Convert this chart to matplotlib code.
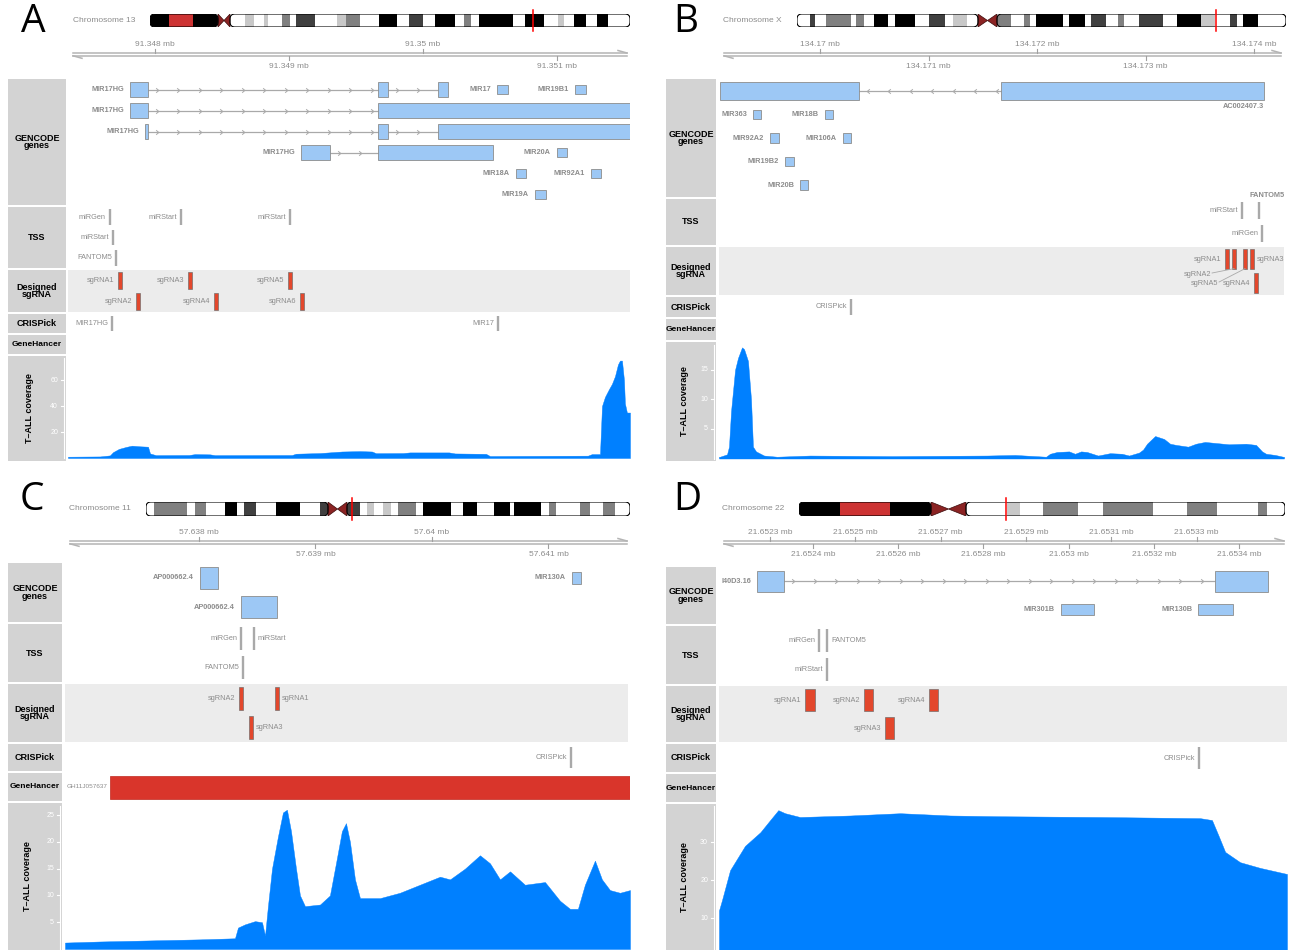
import numpy as np
import matplotlib.pyplot as plt
from matplotlib.patches import Rectangle, Polygon, FancyBboxPatch

# ------------------------------------------------------------------ data
# A: chr13, MIR17HG locus
a_xlim = (91347351, 91351545)
a_ticks = [91348000, 91349000, 91350000, 91351000]
a_gene_names = ['MIR17HG', 'MIR17', 'MIR19B1', 'MIR17HG', 'MIR17HG', 'MIR17HG',
                'MIR20A', 'MIR18A', 'MIR92A1', 'MIR19A']
a_gene_rows = [0, 0, 0, 1, 2, 3, 3, 4, 4, 5]
a_gene_kind = ['lnc', 'mir', 'mir', 'lnc', 'lnc', 'lnc', 'mir', 'mir', 'mir', 'mir']
a_gene_exons = [
    [(91347813, 91347948), (91349664, 91349739), (91350111, 91350186)],
    [(91350551, 91350633)],
    [(91351133, 91351215)],
    [(91347813, 91347948), (91349664, 91351700)],
    [(91347925, 91347948), (91349664, 91349739), (91350111, 91351700)],
    [(91349089, 91349305), (91349664, 91350521)],
    [(91350999, 91351074)],
    [(91350693, 91350768)],
    [(91351253, 91351327)],
    [(91350835, 91350917)],
]
a_tss_names = ['miRGen', 'miRStart', 'miRStart', 'miRStart', 'FANTOM5']
a_tss_pos = [91347664, 91348194, 91349007, 91347687, 91347709]
a_tss_rows = [0, 0, 0, 1, 2]
a_sg_names = ['sgRNA1', 'sgRNA3', 'sgRNA5', 'sgRNA2', 'sgRNA4', 'sgRNA6']
a_sg_start = [91347729, 91348251, 91348997, 91347863, 91348445, 91349087]
a_sg_end = [91347749, 91348271, 91349017, 91347883, 91348465, 91349107]
a_sg_rows = [0, 0, 0, 1, 1, 1]
a_crispick_names = ['MIR17HG', 'MIR17']
a_crispick_pos = [91347679, 91350560]
a_cov_pos = [91347351, 91347590, 91347664, 91347687, 91347731, 91347784, 91347828,
             91347888, 91347948, 91347963, 91348007, 91348254, 91348299, 91348410,
             91348448, 91349022, 91349052, 91349231, 91349396, 91349530, 91349619,
             91349649, 91349851, 91349903, 91350194, 91350239, 91350470, 91350500,
             91351231, 91351261, 91351321, 91351336, 91351358, 91351388, 91351410,
             91351433, 91351455, 91351470, 91351485, 91351500, 91351507, 91351522,
             91351545]
a_cov_val = [1, 1.2, 2, 4.5, 7, 8.5, 9.5, 9, 8.7, 3.5, 2.2, 2.3, 3, 2.8, 2.2,
             2.3, 3.3, 3.8, 5, 5.3, 5, 3.7, 3.8, 4.3, 4.3, 3.5, 3.2, 1.5, 1.8, 3,
             3, 40, 47, 53, 57, 63, 72, 75, 75, 60, 42, 35, 35]
a_cov_ticks = [20, 40, 60]
chr13_edges = [0, 19, 43, 68, 80, 95, 104, 114, 118, 132, 140, 146, 165, 187, 196,
               210, 229, 247, 259, 273, 285, 305, 314, 321, 329, 363, 375, 394, 408,
               414, 424, 436, 447, 458, 480]
chr13_stains = ['gpos100', 'stalk', 'gpos100', 'acen', 'gneg', 'gpos25', 'gneg',
                'gpos25', 'gneg', 'gpos50', 'gneg', 'gpos75', 'gneg', 'gpos25',
                'gpos50', 'gneg', 'gpos100', 'gneg', 'gpos75', 'gneg', 'gpos100',
                'gneg', 'gpos50', 'gneg', 'gpos100', 'gneg', 'gpos100', 'gneg',
                'gpos25', 'gneg', 'gpos100', 'gneg', 'gpos100', 'gneg']
chr13_mark = 383

# B: chrX, MIR106A-363 cluster
b_xlim = (134169069, 134174276)
b_ticks = [134170000, 134171000, 134172000, 134173000, 134174000]
b_gene_names = ['AC002407.3', 'MIR363', 'MIR18B', 'MIR92A2', 'MIR106A', 'MIR19B2', 'MIR20B']
b_gene_rows = [0, 1, 1, 2, 2, 3, 4]
b_gene_kind = ['lnc', 'mir', 'mir', 'mir', 'mir', 'mir', 'mir']
b_gene_exons = [
    [(134169078, 134170359), (134171668, 134174092)],
    [(134169382, 134169456)],
    [(134170046, 134170120)],
    [(134169539, 134169622)],
    [(134170212, 134170286)],
    [(134169677, 134169760)],
    [(134169816, 134169889)],
]
b_tss_names = ['miRStart', 'FANTOM5', 'miRGen']
b_tss_pos = [134173889, 134174046, 134174074]
b_tss_rows = [0, 0, 1]
b_sg_names = ['sgRNA1', 'sgRNA2', 'sgRNA5', 'sgRNA3', 'sgRNA4']
b_sg_start = [134173741, 134173806, 134173907, 134173972, 134174008]
b_sg_end = [134173761, 134173826, 134173927, 134173992, 134174028]
b_sg_rows = [0, 0, 0, 0, 1]
b_crispick_names = ['CRISPick']
b_crispick_pos = [134170286]
b_cov_pos = [134169069, 134169078, 134169143, 134169161, 134169180, 134169217, 134169244,
             134169281, 134169300, 134169336, 134169364, 134169382, 134169410, 134169484,
             134169604, 134169908, 134170664, 134171539, 134171797, 134172083, 134172120,
             134172184, 134172295, 134172350, 134172406, 134172461, 134172562, 134172673,
             134172783, 134172848, 134172940, 134172977, 134173014, 134173088, 134173171,
             134173226, 134173281, 134173392, 134173465, 134173548, 134173659, 134173770,
             134173926, 134174018, 134174074, 134174111, 134174194, 134174267, 134174276]
b_cov_val = [0.3, 0.3, 0.7, 2, 8, 15, 17, 18.8, 18.5, 16.5, 10, 2, 1.2, 0.5, 0.3, 0.5,
             0.4, 0.5, 0.6, 0.3, 0.8, 1.1, 1.2, 0.8, 1.2, 1.1, 0.5, 0.9, 0.8, 0.5, 1,
             1.5, 2.5, 3.8, 3.3, 2.5, 2.3, 2, 2.5, 2.8, 2.6, 2.4, 2.5, 2.3, 1.2, 0.8,
             0.6, 0.3, 0.3]
b_cov_ticks = [5, 10, 15]
chrX_edges = [0, 13, 18, 29, 54, 59, 67, 77, 91, 98, 118, 132, 148, 156, 170, 181, 200,
              214, 227, 233, 239, 266, 272, 288, 294, 309, 321, 327, 342, 366, 380, 404,
              418, 433, 440, 446, 461, 489]
chrX_stains = ['gneg', 'gpos75', 'gneg', 'gpos50', 'gneg', 'gpos50', 'gneg', 'gpos100',
               'gneg', 'gpos100', 'gneg', 'gpos75', 'gneg', 'gpos25', 'gneg', 'acen',
               'gpos50', 'gneg', 'gpos50', 'gneg', 'gpos100', 'gneg', 'gpos100', 'gneg',
               'gpos75', 'gneg', 'gpos50', 'gneg', 'gpos75', 'gneg', 'gpos100', 'gpos25',
               'gneg', 'gpos75', 'gneg', 'gpos100', 'gneg']
chrX_mark = 419

# C: chr11, MIR130A
c_xlim = (57636850, 57641700)
c_ticks = [57638000, 57639000, 57640000, 57641000]
c_gene_names = ['AP000662.4', 'MIR130A', 'AP000662.4']
c_gene_rows = [0, 0, 1]
c_gene_kind = ['lnc', 'mir', 'lnc']
c_gene_exons = [[(57638009, 57638163)], [(57641202, 57641279)], [(57638361, 57638670)]]
c_tss_names = ['miRGen', 'miRStart', 'FANTOM5']
c_tss_pos = [57638361, 57638472, 57638378]
c_tss_rows = [0, 0, 1]
c_sg_names = ['sgRNA2', 'sgRNA1', 'sgRNA3']
c_sg_start = [57638351, 57638660, 57638436]
c_sg_end = [57638371, 57638680, 57638456]
c_sg_rows = [0, 0, 1]
c_crispick_names = ['CRISPick']
c_crispick_pos = [57641193]
c_gh_names = ['GH11J057637']
c_gh_start = [57637236]
c_gh_end = [57641800]
c_cov_pos = [57636850, 57637150, 57637579, 57638009, 57638309, 57638335, 57638395,
             57638481, 57638541, 57638567, 57638592, 57638627, 57638678, 57638721,
             57638755, 57638790, 57638833, 57638867, 57638910, 57639039, 57639124,
             57639176, 57639227, 57639262, 57639296, 57639339, 57639382, 57639554,
             57639725, 57639897, 57640069, 57640155, 57640283, 57640412, 57640498,
             57640584, 57640670, 57640798, 57640970, 57641099, 57641185, 57641253,
             57641313, 57641399, 57641459, 57641528, 57641614, 57641700]
c_cov_val = [1.2, 1.4, 1.6, 1.8, 2, 4, 4.6, 5.2, 5, 2.5, 8, 15, 21, 25.5, 26, 22, 15,
             10, 8, 8.3, 10, 16, 22, 23.5, 20, 13, 9.5, 9.5, 10.5, 12, 13.5, 13, 15,
             17.5, 16, 13, 14.5, 12, 12.5, 9, 7.5, 7.5, 12, 16.5, 13, 11, 10.5, 11]
c_cov_ticks = [5, 10, 15, 20, 25]
chr11_edges = [0, 8, 41, 49, 60, 79, 91, 98, 110, 130, 154, 174, 182, 201, 214, 221, 228,
               237, 245, 252, 270, 277, 305, 317, 331, 348, 364, 368, 395, 403, 410, 434,
               444, 457, 469, 484]
chr11_stains = ['gneg', 'gpos50', 'gneg', 'gpos50', 'gneg', 'gpos100', 'gneg', 'gpos75',
                'gneg', 'gpos100', 'gneg', 'gpos75', 'acen', 'gpos75', 'gneg', 'gpos25',
                'gneg', 'gpos25', 'gneg', 'gpos50', 'gneg', 'gpos100', 'gneg', 'gpos100',
                'gneg', 'gpos100', 'gneg', 'gpos100', 'gneg', 'gpos50', 'gneg', 'gpos50',
                'gneg', 'gpos50', 'gneg']
chr11_mark = 206

# D: chr22, MIR301B / MIR130B
d_xlim = (21652180, 21653512)
d_ticks = [21652300, 21652400, 21652500, 21652600, 21652700, 21652800, 21652900,
           21653000, 21653100, 21653200, 21653300, 21653400]
d_gene_names = ['I40D3.16', 'MIR301B', 'MIR130B']
d_gene_rows = [0, 1, 1]
d_gene_kind = ['lnc', 'mir', 'mir']
d_gene_exons = [[(21652270, 21652333), (21653344, 21653468)],
                [(21652982, 21653060)], [(21653304, 21653386)]]
d_tss_names = ['miRGen', 'FANTOM5', 'miRStart']
d_tss_pos = [21652415, 21652434, 21652434]
d_tss_rows = [0, 0, 1]
d_sg_names = ['sgRNA1', 'sgRNA2', 'sgRNA4', 'sgRNA3']
d_sg_start = [21652382, 21652520, 21652673, 21652570]
d_sg_end = [21652406, 21652542, 21652694, 21652591]
d_sg_rows = [0, 0, 0, 1]
d_crispick_names = ['CRISPick']
d_crispick_pos = [21653306]
d_cov_pos = [21652180, 21652187, 21652206, 21652241, 21652277, 21652300, 21652319,
             21652335, 21652370, 21652488, 21652605, 21652722, 21652839, 21653074,
             21653308, 21653336, 21653351, 21653367, 21653402, 21653449, 21653512]
d_cov_val = [12, 14.7, 22.6, 29, 32.6, 35.8, 38.4, 37.6, 36.6, 37, 37.6, 37, 36.8,
             36.6, 36.3, 35.8, 31.8, 27.4, 24.7, 23.2, 21.6]
d_cov_ticks = [10, 20, 30]
chr22_edges = [0, 41, 91, 132, 167, 208, 221, 244, 279, 304, 354, 388, 418, 459, 468, 486]
chr22_stains = ['gpos100', 'stalk', 'gpos100', 'acen', 'gneg', 'gpos25', 'gneg', 'gpos50',
                'gneg', 'gpos50', 'gneg', 'gpos50', 'gneg', 'gpos50', 'gneg']
chr22_mark = 207

# ------------------------------------------------------------------ style
W, H = 1290, 950
plt.rcParams['font.family'] = ['Liberation Sans', 'DejaVu Sans']
LAB = '#8c8c8c'
TITLE_BG = '#d3d3d3'
LINE = '#a9a9a9'
GENE_FC, GENE_EC = '#9dc8f5', '#8c8c8c'
SG_FC, SG_EC = '#e3472c', '#6a6a6a'
GH_FC = '#d9352b'
COV = '#0080ff'
STAIN = {'gneg': 'white', 'gpos25': '#c8c8c8', 'gpos50': '#808080', 'gpos75': '#404040',
         'gpos100': 'black', 'stalk': '#cd3333', 'acen': '#8b2323'}
LFS = 5.3

fig = plt.figure(figsize=(W / 100, H / 100), dpi=100)


def frac(x0, y0, x1, y1):
    return [x0 / W, 1 - y1 / H, (x1 - x0) / W, (y1 - y0) / H]


def track_axes(x0, y0, x1, y1, xlim):
    ax = fig.add_axes(frac(x0, y0, x1, y1))
    ax.set_xlim(*xlim)
    ax.set_ylim(y1 - y0, 0)
    ax.axis('off')
    return ax


def title_box(x0, y0, x1, y1, text, size=6.5):
    ax = fig.add_axes(frac(x0, y0, x1, y1))
    ax.set_facecolor(TITLE_BG)
    ax.set_xticks([]); ax.set_yticks([])
    for s in ax.spines.values():
        s.set_visible(False)
    if text:
        ax.text(0.5, 0.5, text, ha='center', va='center', fontsize=size,
                fontweight='bold', linespacing=0.85, transform=ax.transAxes)
    return ax


def ideogram(box, label, edges, stains, mark):
    x0, y0, x1, y1 = box
    hp = y1 - y0
    ax = fig.add_axes(frac(x0, y0, x1, y1))
    ax.set_xlim(edges[0], edges[-1]); ax.set_ylim(0, hp); ax.axis('off')
    ci = stains.index('acen')
    ca, cb = edges[ci], edges[ci + 1]
    arms = []
    for a, b in [(edges[0], ca), (cb, edges[-1])]:
        arm = FancyBboxPatch((a, 0), b - a, hp, boxstyle='round,pad=0,rounding_size=5',
                             fc='none', ec='black', lw=0.8, zorder=3)
        ax.add_patch(arm)
        arms.append(arm)
    for a, b, s in zip(edges[:-1], edges[1:], stains):
        if s == 'acen':
            m = (a + b) / 2
            for base in (a, b):
                ax.add_patch(Polygon([(base, 0), (base, hp), (m, hp / 2)], closed=True,
                                     fc=STAIN['acen'], ec='#3a0a0a', lw=0.5, zorder=2))
            continue
        r = Rectangle((a, 0), b - a, hp, fc=STAIN[s], lw=0, zorder=1)
        ax.add_patch(r)
        r.set_clip_path(arms[0] if b <= ca else arms[1])
    ax.plot([mark, mark], [-4, hp + 4], color='red', lw=1.1, clip_on=False, zorder=5)
    fig.text((x0 - 15) / W, 1 - (y0 + y1) / 2 / H, label, ha='right', va='center',
             fontsize=6, color=LAB)


def genome_axis(data_x, yl, xlim, ticks):
    ax = track_axes(data_x[0], yl - 20, data_x[1], yl + 20, xlim)
    bpp = (xlim[1] - xlim[0]) / (data_x[1] - data_x[0])
    xa, xb = xlim[0] + 5 * bpp, xlim[1] - 3 * bpp
    ax.plot([xa, xb], [19, 19], color='#b4b4b4', lw=1.1, clip_on=False)
    ax.plot([xa, xb], [21.8, 21.8], color='#b4b4b4', lw=1.1, clip_on=False)
    ax.plot([xb - 9 * bpp, xb], [16.5, 19], color='#b4b4b4', lw=1.1, clip_on=False)
    ax.plot([xa, xa + 9 * bpp], [21.8, 24.3], color='#b4b4b4', lw=1.1, clip_on=False)
    for i, t in enumerate(ticks):
        lab = '%g mb' % (t / 1e6)
        if i % 2 == 0:
            ax.plot([t, t], [15, 19], color='#a0a0a0', lw=0.8)
            ax.text(t, 10, lab, ha='center', va='center', fontsize=6, color=LAB)
        else:
            ax.plot([t, t], [21.8, 26], color='#a0a0a0', lw=0.8)
            ax.text(t, 33, lab, ha='center', va='center', fontsize=6, color=LAB)


def chevron(strand):
    if strand == '+':
        return [(-0.6, 1), (0.6, 0), (-0.6, -1)]
    return [(0.6, 1), (-0.6, 0), (0.6, -1)]


def draw_genes(ax, h, nrows, bpp, names, rows, exons, kinds, strand, sides):
    rh = h / nrows
    for name, r, ex, kind, side in zip(names, rows, exons, kinds, sides):
        yc = (r + 0.5) * rh
        bh = rh * (0.74 if kind == 'lnc' else 0.4)
        if len(ex) > 1:
            ax.plot([ex[0][1], ex[-1][0]], [yc, yc], color=LINE, lw=0.9, zorder=1)
            for (s0, e0), (s1, e1) in zip(ex[:-1], ex[1:]):
                xs = np.arange(e0 + 9 * bpp, s1 - 2 * bpp, 21.5 * bpp)
                ax.plot(xs, np.full(len(xs), yc), ls='none', marker=chevron(strand),
                        ms=3.2, mfc='none', mec=LINE, mew=0.7, zorder=1)
        for s, e in ex:
            ax.add_patch(Rectangle((s, yc - bh / 2), e - s, bh, fc=GENE_FC, ec=GENE_EC,
                                   lw=0.6, zorder=2))
        if side == 'left':
            ax.text(ex[0][0] - 6 * bpp, yc, name, ha='right', va='center', fontsize=LFS,
                    fontweight='bold', color=LAB)
        else:
            ax.text(ex[-1][1], yc + bh / 2 + 7, name, ha='right', va='center',
                    fontsize=LFS, fontweight='bold', color=LAB)


def draw_marks(ax, h, nrows, bpp, names, pos, rows, sides):
    rh = h / nrows
    for name, p, r, side in zip(names, pos, rows, sides):
        yc = (r + 0.5) * rh
        bh = 0.78 * rh
        ax.plot([p, p], [yc - bh / 2, yc + bh / 2], color=LINE, lw=1.7,
                solid_capstyle='butt')
        if side == 'left':
            ax.text(p - 4 * bpp, yc, name, ha='right', va='center', fontsize=LFS, color=LAB)
        elif side == 'right':
            ax.text(p + 4 * bpp, yc, name, ha='left', va='center', fontsize=LFS, color=LAB)
        else:
            ax.text(p + 8 * bpp, yc - bh / 2 - 6, name, ha='center', va='center',
                    fontsize=LFS, color=LAB, fontweight='bold', clip_on=False)


def draw_sg(ax, h, nrows, bpp, names, starts, ends, rows, sides, leaders=None):
    rh = h / nrows
    for name, s, e, r, side in zip(names, starts, ends, rows, sides):
        yc = (r + 0.5) * rh
        bh = 0.8 * rh
        w = max(e - s, 3.6 * bpp)
        c = (s + e) / 2
        ax.add_patch(Rectangle((c - w / 2, yc - bh / 2), w, bh, fc=SG_FC, ec=SG_EC,
                               lw=0.45, zorder=2))
        if side == 'left':
            ax.text(c - w / 2 - 4 * bpp, yc, name, ha='right', va='center', fontsize=LFS,
                    color=LAB)
        elif side == 'right':
            ax.text(c + w / 2 + 3 * bpp, yc, name, ha='left', va='center', fontsize=LFS,
                    color=LAB)
        else:
            dx, dy = leaders[name]
            lx, ly = c - dx * bpp, yc + dy
            ax.plot([c, lx + 1 * bpp], [yc + bh / 2, ly - 1], color=LINE, lw=0.6)
            ax.text(lx, ly, name, ha='right', va='center', fontsize=LFS, color=LAB)


def coverage(title_x, data_x, track, axis_y, pos, val, ymax, ticks):
    title_box(title_x[0], track[0], title_x[1], track[1], None)
    tw = title_x[1] - title_x[0]
    fig.text((title_x[0] + 0.37 * tw) / W, 1 - (track[0] + track[1]) / 2 / H,
             'T\u2013ALL coverage', rotation=90, ha='center', va='center',
             fontsize=6.5, fontweight='bold')
    yax = fig.add_axes(frac(title_x[0], axis_y[0], title_x[1], axis_y[1]))
    yax.set_xlim(title_x[0], title_x[1]); yax.set_ylim(0, ymax); yax.axis('off')
    xl = title_x[1] - 2
    yax.plot([xl, xl], [0, ymax], color='white', lw=0.8, clip_on=False)
    for t in ticks:
        yax.plot([xl - 3, xl], [t, t], color='white', lw=0.8)
        yax.text(xl - 6, t, str(t), ha='right', va='center', fontsize=5, color='white')
    cax = fig.add_axes(frac(data_x[0], axis_y[0], data_x[1], axis_y[1]))
    cax.set_xlim(pos[0], pos[-1]); cax.set_ylim(0, ymax); cax.axis('off')
    cax.fill_between(pos, val, 0, color=COV, lw=0.3, ec=COV)


def panel(cfg):
    fig.text(cfg['letter_xy'][0] / W, 1 - cfg['letter_xy'][1] / H, cfg['letter'],
             fontsize=28, ha='center', va='center', family=['Open Sans', 'DejaVu Sans'])
    ideogram(cfg['ideo'], cfg['chrom'], cfg['edges'], cfg['stains'], cfg['mark'])
    dx = cfg['data_x']
    xlim = cfg['xlim']
    bpp = (xlim[1] - xlim[0]) / (dx[1] - dx[0])
    genome_axis(dx, cfg['axis_y'], xlim, cfg['ticks'])
    tx = cfg['title_x']
    tr = cfg['tracks']
    titles = {'genes': 'GENCODE\ngenes', 'tss': 'TSS', 'sg': 'Designed\nsgRNA',
              'crispick': 'CRISPick', 'gh': 'GeneHancer'}
    for key, txt in titles.items():
        title_box(tx[0], tr[key][0], tx[1], tr[key][1], txt,
                  size=6.0 if key == 'gh' else 6.5)
    t = tr['genes']
    ax = track_axes(dx[0], t[0], dx[1], t[1], xlim)
    draw_genes(ax, t[1] - t[0], cfg['gene_nrows'], bpp, *cfg['genes'])
    t = tr['tss']
    ax = track_axes(dx[0], t[0], dx[1], t[1], xlim)
    draw_marks(ax, t[1] - t[0], cfg['tss_nrows'], bpp, *cfg['tss'])
    t = tr['sg']
    ax = track_axes(cfg['sg_x'][0], t[0], cfg['sg_x'][1], t[1],
                    (xlim[0] + (cfg['sg_x'][0] - dx[0]) * bpp,
                     xlim[0] + (cfg['sg_x'][1] - dx[0]) * bpp))
    ax.add_patch(Rectangle((0, 0), 1, 1, transform=ax.transAxes, fc='#ececec', lw=0,
                           zorder=0))
    draw_sg(ax, t[1] - t[0], 2, bpp, *cfg['sg'], leaders=cfg.get('leaders'))
    t = tr['crispick']
    ax = track_axes(dx[0], t[0], dx[1], t[1], xlim)
    draw_marks(ax, t[1] - t[0], 1, bpp, *cfg['crispick'])
    t = tr['gh']
    ax = track_axes(dx[0], t[0], dx[1], t[1], xlim)
    if cfg.get('gh'):
        names, starts, ends = cfg['gh']
        h = t[1] - t[0]
        for n, s, e in zip(names, starts, ends):
            ax.add_patch(Rectangle((s, h * 0.1), e - s, h * 0.82, fc=GH_FC, ec='#c02a20',
                                   lw=0.5))
            ax.text(s - 2 * bpp, h / 2, n, ha='right', va='center', fontsize=4.6,
                    color=LAB)
    pos, val, ymax, ticks = cfg['cov']
    coverage(tx, dx, tr['cov'], cfg['cov_axis'], pos, val, ymax, ticks)


panel(dict(
    letter='A', letter_xy=(33, 22), chrom='Chromosome 13', ideo=(150, 14, 630, 27),
    edges=chr13_edges, stains=chr13_stains, mark=chr13_mark,
    data_x=(68, 630), xlim=a_xlim, axis_y=54, ticks=a_ticks, title_x=(8, 66),
    tracks=dict(genes=(79, 205), tss=(207, 268), sg=(270, 312), crispick=(314, 333),
                gh=(335, 354), cov=(356, 461)),
    sg_x=(68, 630), gene_nrows=6, tss_nrows=3,
    genes=(a_gene_names, a_gene_rows, a_gene_exons, a_gene_kind, '+',
           ['left'] * len(a_gene_names)),
    tss=(a_tss_names, a_tss_pos, a_tss_rows, ['left'] * 5),
    sg=(a_sg_names, a_sg_start, a_sg_end, a_sg_rows, ['left'] * 6),
    crispick=(a_crispick_names, a_crispick_pos, [0, 0], ['left', 'left']),
    cov=(a_cov_pos, a_cov_val, 77, a_cov_ticks), cov_axis=(358, 458)))

panel(dict(
    letter='B', letter_xy=(686, 22), chrom='Chromosome X', ideo=(797, 14, 1286, 27),
    edges=chrX_edges, stains=chrX_stains, mark=chrX_mark,
    data_x=(719, 1284), xlim=b_xlim, axis_y=54, ticks=b_ticks, title_x=(666, 716),
    tracks=dict(genes=(79, 197), tss=(199, 245), sg=(247, 295), crispick=(297, 317),
                gh=(319, 340), cov=(342, 461)),
    sg_x=(719, 1284), gene_nrows=5, tss_nrows=2,
    genes=(b_gene_names, b_gene_rows, b_gene_exons, b_gene_kind, '-',
           ['below'] + ['left'] * 6),
    tss=(b_tss_names, b_tss_pos, b_tss_rows, ['left', 'above', 'left']),
    sg=(b_sg_names, b_sg_start, b_sg_end, b_sg_rows,
        ['left', 'lead', 'lead', 'right', 'left']),
    leaders={'sgRNA2': (23, 15), 'sgRNA5': (27, 24)},
    crispick=(b_crispick_names, b_crispick_pos, [0], ['left']),
    cov=(b_cov_pos, b_cov_val, 19.2, b_cov_ticks), cov_axis=(345, 458.5)))

panel(dict(
    letter='C', letter_xy=(32, 500), chrom='Chromosome 11', ideo=(146, 502, 630, 516),
    edges=chr11_edges, stains=chr11_stains, mark=chr11_mark,
    data_x=(65, 630), xlim=c_xlim, axis_y=542, ticks=c_ticks, title_x=(8, 62),
    tracks=dict(genes=(563, 622), tss=(624, 682), sg=(684, 742), crispick=(744, 771),
                gh=(773, 801), cov=(803, 950)),
    sg_x=(65, 628), gene_nrows=2, tss_nrows=2,
    genes=(c_gene_names, c_gene_rows, c_gene_exons, c_gene_kind, '+', ['left'] * 3),
    tss=(c_tss_names, c_tss_pos, c_tss_rows, ['left', 'right', 'left']),
    sg=(c_sg_names, c_sg_start, c_sg_end, c_sg_rows, ['left', 'right', 'right']),
    crispick=(c_crispick_names, c_crispick_pos, [0], ['left']),
    gh=(c_gh_names, c_gh_start, c_gh_end),
    cov=(c_cov_pos, c_cov_val, 26.7, c_cov_ticks), cov_axis=(806, 949)))

panel(dict(
    letter='D', letter_xy=(687, 500), chrom='Chromosome 22', ideo=(799, 502, 1285, 516),
    edges=chr22_edges, stains=chr22_stains, mark=chr22_mark,
    data_x=(719, 1287), xlim=d_xlim, axis_y=542, ticks=d_ticks, title_x=(666, 716),
    tracks=dict(genes=(567, 624), tss=(626, 684), sg=(686, 742), crispick=(744, 772),
                gh=(774, 802), cov=(804, 950)),
    sg_x=(719, 1287), gene_nrows=2, tss_nrows=2,
    genes=(d_gene_names, d_gene_rows, d_gene_exons, d_gene_kind, '+', ['left'] * 3),
    tss=(d_tss_names, d_tss_pos, d_tss_rows, ['left', 'right', 'left']),
    sg=(d_sg_names, d_sg_start, d_sg_end, d_sg_rows, ['left'] * 4),
    crispick=(d_crispick_names, d_crispick_pos, [0], ['left']),
    cov=(d_cov_pos, d_cov_val, 39.5, d_cov_ticks), cov_axis=(806, 956)))

fig.savefig('out.png', dpi=100)
